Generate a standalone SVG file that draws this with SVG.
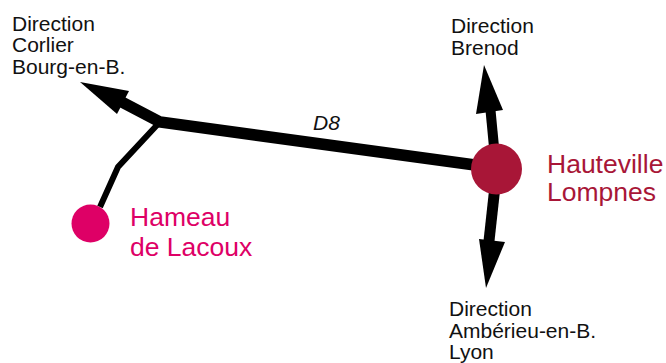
<svg xmlns="http://www.w3.org/2000/svg" width="666" height="363" viewBox="0 0 666 363">
<style>
text{font-family:"Liberation Sans",Arial,sans-serif}
.s{font-size:21px;fill:#111}
.b{font-size:26.500px}
.c{fill:none;stroke:#000;stroke-linejoin:miter}
.h{fill:#000}
</style>
<rect width="666" height="363" fill="#fff"/>
<g id="connectors">
<path class="c" stroke-width="11.500" d="M497 168L160 122L118 100"/>
<path class="c" stroke-width="6" d="M158 124L118 167L100 207"/>
<path class="c" stroke-width="10" d="M496 168L490 105"/>
<path class="c" stroke-width="11" d="M497 168L488 250"/>
<polygon class="h" points="80,82 129,91 117,114"/>
<polygon class="h" points="484,65 503,110 476,114"/>
<polygon class="h" points="486,288 479,239 505,242"/>
</g>
<g id="lacoux"><circle cx="90.500" cy="223.500" r="19" fill="#de0066"/>
<text class="b" fill="#de0066"><tspan x="130" y="226">Hameau</tspan><tspan x="130" y="256">de Lacoux</tspan></text></g>
<g id="hauteville"><circle cx="496.500" cy="169" r="25.500" fill="#a81637"/>
<text class="b" fill="#a81637"><tspan x="547" y="173">Hauteville</tspan><tspan x="547" y="201">Lompnes</tspan></text></g>
<g id="corlier"><text class="s"><tspan x="12" y="31">Direction</tspan><tspan x="12" y="52">Corlier</tspan><tspan x="12" y="74">Bourg-en-B.</tspan></text></g>
<g id="brenod"><text class="s"><tspan x="451" y="33">Direction</tspan><tspan x="451" y="55">Brenod</tspan></text></g>
<g id="amberieu"><text class="s"><tspan x="449" y="316">Direction</tspan><tspan x="449" y="338">Ambérieu-en-B.</tspan><tspan x="449" y="359">Lyon</tspan></text></g>
<text x="313" y="130" font-size="21" font-style="italic" fill="#111">D8</text>
</svg>
